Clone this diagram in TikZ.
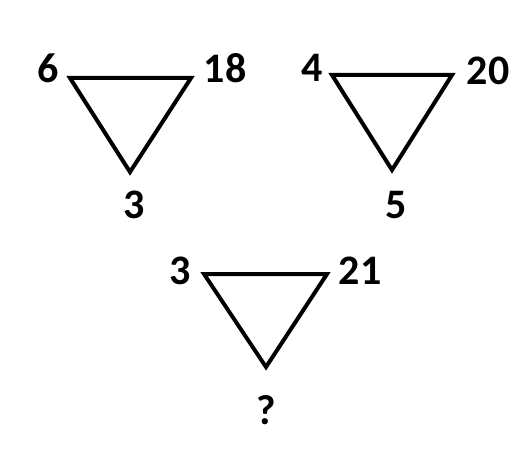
\documentclass[tikz,border=0pt]{standalone}
\usepackage{fontspec}
\setmainfont{Carlito}
\tikzset{
  num/.style={font=\fontsize{42}{48}\selectfont\bfseries, inner sep=0pt},
  tri/.style={line width=4pt, line join=miter}
}
\begin{document}
\begin{tikzpicture}[x=1pt, y=-1pt]
    \useasboundingbox (0,0) rectangle (518,457);
    % first triangle
    \draw[tri] (70,78) -- (191,78) -- (130,172) -- cycle;
    \node[num] (aL) at (48,68) {6};
    \node[num] (aR) at (225,68) {18};
    \node[num] (aB) at (134,205) {3};
    % second triangle
    \draw[tri] (332,75) -- (452,75) -- (392,170) -- cycle;
    \node[num] (bL) at (312,68) {4};
    \node[num] (bR) at (488,71) {20};
    \node[num] (bB) at (396,205) {5};
    % third triangle
    \draw[tri] (204,274) -- (327,274) -- (266,367) -- cycle;
    \node[num] (cL) at (180,271) {3};
    \node[num] (cR) at (360,271) {21};
    \node[num] (cB) at (266,410) {?};
\end{tikzpicture}
\end{document}
